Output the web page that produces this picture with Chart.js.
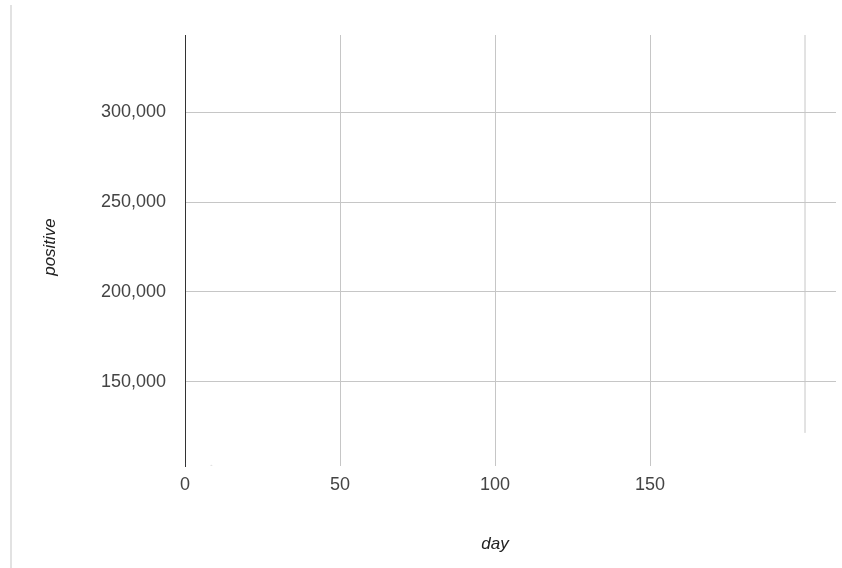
<!DOCTYPE html>
<html>
<head>
<meta charset="utf-8">
<script src="https://cdn.jsdelivr.net/npm/chart.js@4.4.1/dist/chart.umd.min.js"></script>
<style>
  html, body { margin: 0; padding: 0; background: #ffffff; }
  #wrap { position: relative; width: 842px; height: 568px; }
  #edge { position: absolute; left: 10px; top: 5px; width: 2px; bottom: 0; background: #e2e2e2; }
  canvas { position: absolute; left: 0; top: 0; }
</style>
</head>
<body>
<div id="wrap">
  <div id="edge"></div>
  <canvas id="c" width="842" height="568"></canvas>
</div>
<script>
// ---- data ----
const xTicks = [0, 50, 100, 150, 200];
const xTickLabels = ['0', '50', '100', '150', ''];
const yTicks = [150000, 200000, 250000, 300000];
const yTickLabels = ['150,000', '200,000', '250,000', '300,000'];
const xRange = [0, 210];
const yRange = [103300, 342800];
const pointDays = [-0.6, 8.5];
const pointPositive = [104600, 103500];
const grid200Days = [200, 200];
const grid200Values = [121700, 342800];
const xTitle = 'day';
const yTitle = 'positive';

const FONT = "Arial, 'Liberation Sans', sans-serif";

const titlePlugin = {
  id: 'titlePlugin',
  afterDraw(chart) {
    const xs = chart.scales.x;
    const ys = chart.scales.y;
    const ctx = chart.ctx;
    const cx = (xs.getPixelForValue(xTicks[0]) + xs.getPixelForValue(xTicks[xTicks.length - 1])) / 2;
    const cy = (ys.getPixelForValue(yTicks[0]) + ys.getPixelForValue(yTicks[yTicks.length - 1])) / 2;
    ctx.save();
    ctx.font = "italic 17px " + FONT;
    ctx.fillStyle = '#222222';
    ctx.textAlign = 'center';
    ctx.textBaseline = 'middle';
    ctx.fillText(xTitle, cx, 544);
    ctx.translate(50, cy);
    ctx.rotate(-Math.PI / 2);
    ctx.fillText(yTitle, 0, 0);
    ctx.restore();
  }
};

new Chart(document.getElementById('c'), {
  type: 'scatter',
  data: {
    datasets: [
      {
        type: 'line',
        data: grid200Days.map((d, i) => ({ x: d, y: grid200Values[i] })),
        borderColor: '#c6c6c6',
        borderWidth: 1,
        pointRadius: 0,
        fill: false
      },
      {
        data: pointDays.map((d, i) => ({ x: d, y: pointPositive[i] })),
        pointRadius: [2, 1],
        pointBackgroundColor: ['rgba(90,130,230,0.55)', 'rgba(200,200,200,0.5)'],
        pointBorderWidth: 0
      }
    ]
  },
  plugins: [titlePlugin],
  options: {
    responsive: false,
    animation: false,
    layout: { padding: { left: 0, top: 35, right: 6, bottom: 0 } },
    plugins: { legend: { display: false }, tooltip: { enabled: false } },
    scales: {
      x: {
        type: 'linear',
        position: 'bottom',
        min: xRange[0],
        max: xRange[1],
        afterBuildTicks: s => { s.ticks = xTicks.map(v => ({ value: v })); },
        afterFit: s => { s.height = 102; },
        border: { display: false },
        grid: {
          drawTicks: false,
          lineWidth: 1,
          color: c => c.tick && c.tick.value === 0 ? '#333333' : (c.tick && c.tick.value === 200 ? 'rgba(0,0,0,0)' : '#c6c6c6')
        },
        ticks: {
          padding: 8,
          color: '#444444',
          font: { family: FONT, size: 18 },
          maxRotation: 0,
          autoSkip: false,
          callback: v => { const i = xTicks.indexOf(v); return i >= 0 ? xTickLabels[i] : ''; }
        },
        title: { display: false }
      },
      y: {
        type: 'linear',
        position: 'left',
        min: yRange[0],
        max: yRange[1],
        afterBuildTicks: s => { s.ticks = yTicks.map(v => ({ value: v })); },
        afterFit: s => { s.width = 185; },
        border: { display: true, color: '#333333', width: 1 },
        grid: { drawTicks: false, color: '#c6c6c6', lineWidth: 1 },
        ticks: {
          padding: 19,
          color: '#444444',
          font: { family: FONT, size: 18 },
          callback: v => { const i = yTicks.indexOf(v); return i >= 0 ? yTickLabels[i] : ''; }
        },
        title: { display: false }
      }
    }
  }
});
</script>
</body>
</html>
